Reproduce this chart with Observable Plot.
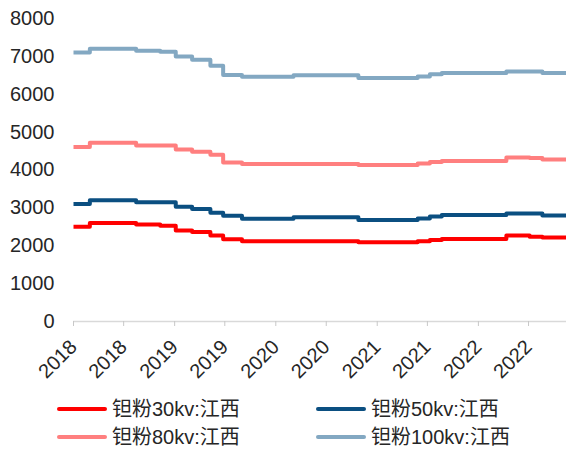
<!DOCTYPE html>
<html>
<head>
<meta charset="utf-8">
<script src="https://cdn.jsdelivr.net/npm/d3@7"></script>
<script src="https://cdn.jsdelivr.net/npm/@observablehq/plot@0.6"></script>
<style>
  body { margin: 0; background: #fff; font-family: "Liberation Sans", Arial, "Noto Sans CJK SC", sans-serif; }
  #wrap { width: 566px; position: relative; }
  .legend { position: relative; height: 61px; }
  .swatch { position: absolute; width: 50px; height: 4px; border-radius: 2px; }
  .label { position: absolute; font-size: 20px; line-height: 24px; color: #262626; white-space: nowrap;
           font-family: "Liberation Sans", Arial, "Noto Sans CJK SC", sans-serif; }
</style>
</head>
<body>
<div id="wrap"></div>
<script>
// Price change dates (step points) for tantalum powder, Jiangxi
const dates = [
  "2018-01-01", "2018-03-01", "2018-08-15", "2018-11-10", "2019-01-05",
  "2019-03-05", "2019-05-10", "2019-06-25", "2019-09-01", "2020-03-05",
  "2020-10-25", "2021-05-27", "2021-07-10", "2021-08-22", "2022-04-12",
  "2022-07-05", "2022-08-20", "2022-11-15"
];
const kv30  = [2500, 2600, 2560, 2530, 2400, 2360, 2270, 2170, 2120, 2120, 2090, 2120, 2150, 2180, 2270, 2240, 2220, 2200];
const kv50  = [3100, 3200, 3150, 3150, 3030, 2970, 2870, 2790, 2710, 2750, 2680, 2720, 2770, 2810, 2850, 2850, 2800, 2800];
const kv80  = [4610, 4720, 4650, 4650, 4540, 4480, 4400, 4200, 4160, 4160, 4130, 4170, 4210, 4240, 4330, 4320, 4280, 4250];
const kv100 = [7100, 7200, 7150, 7120, 7000, 6910, 6750, 6510, 6460, 6500, 6430, 6470, 6530, 6560, 6600, 6600, 6560, 6560];

const seriesNames = ["钽粉30kv:江西", "钽粉50kv:江西", "钽粉80kv:江西", "钽粉100kv:江西"];
const seriesColors = ["#ff0000", "#0b4f81", "#ff7f7f", "#83a8c2"];
const seriesValues = [kv30, kv50, kv80, kv100];

const yTicks = [0, 1000, 2000, 3000, 4000, 5000, 6000, 7000, 8000];
const xTicks = ["2018-01-01", "2018-07-01", "2019-01-01", "2019-07-01", "2020-01-01",
                "2020-07-01", "2021-01-01", "2021-07-01", "2022-01-01", "2022-07-01"].map(d => new Date(d));

const rows = [];
seriesValues.forEach((vals, s) => {
  vals.forEach((v, i) => rows.push({series: seriesNames[s], date: new Date(dates[i]), value: v}));
});

const chart = Plot.plot({
  width: 566,
  height: 392,
  marginLeft: 73,
  marginRight: 0,
  marginTop: 18,
  marginBottom: 71,
  style: {fontFamily: '"Liberation Sans", Arial, sans-serif', fontSize: "20px", color: "#262626", background: "#fff"},
  x: {type: "utc", domain: [new Date(dates[0]), new Date(dates[dates.length - 1])]},
  y: {domain: [0, 8000]},
  color: {domain: seriesNames, range: seriesColors},
  marks: [
    Plot.ruleY([0], {stroke: "#d9d9d9", strokeWidth: 1.5}),
    Plot.axisY({ticks: yTicks, tickFormat: d => String(d), tickSize: 0, tickPadding: 19,
                label: null, fontSize: 20, fill: "#262626"}),
    Plot.axisX({ticks: xTicks, tickFormat: "%Y", tickRotate: -45, tickSize: 5, tickPadding: 17,
                stroke: "#c8c8c8", fill: "#262626", label: null, fontSize: 20}),
    Plot.line(rows, {x: "date", y: "value", z: "series", stroke: "series",
                     curve: "step-after", strokeWidth: 4, strokeLinejoin: "round", strokeLinecap: "butt"})
  ]
});
document.getElementById("wrap").appendChild(chart);

// Legend: two rows, two columns
const legend = document.createElement("div");
legend.className = "legend";
const pos = [[57, 17], [316, 17], [57, 45], [316, 45]];
seriesNames.forEach((name, i) => {
  const sw = document.createElement("div");
  sw.className = "swatch";
  sw.style.left = pos[i][0] + "px";
  sw.style.top = (pos[i][1] - 2) + "px";
  sw.style.background = seriesColors[i];
  const tx = document.createElement("div");
  tx.className = "label";
  tx.style.left = (pos[i][0] + 55) + "px";
  tx.style.top = (pos[i][1] - 12) + "px";
  tx.textContent = name;
  legend.appendChild(sw);
  legend.appendChild(tx);
});
document.getElementById("wrap").appendChild(legend);
</script>
</body>
</html>
